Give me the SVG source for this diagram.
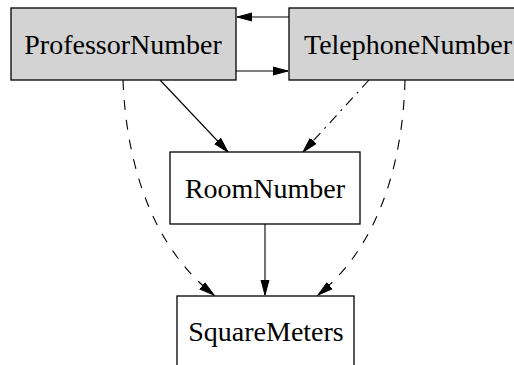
<svg xmlns="http://www.w3.org/2000/svg" width="514" height="365" viewBox="0 0 514 365">
<style>
.box{stroke:#000;stroke-width:1.3}
.grey{fill:#d3d3d3}
.white{fill:#fff}
text{font-family:"Liberation Serif","Times New Roman",serif;font-size:28px;fill:#000;text-anchor:middle}
.e{fill:none;stroke:#000;stroke-width:1.1}
.dash{stroke-dasharray:10,10}
.dashdot{stroke-dasharray:10,6,2,6}
</style>
<defs>
<marker id="ah" markerWidth="16" markerHeight="10" refX="15" refY="5" orient="auto" markerUnits="userSpaceOnUse">
<path d="M0,1 L15,5 L0,9 Z" fill="#000" stroke="#000" stroke-width="1"/>
</marker>
</defs>
<rect width="514" height="365" fill="#fff"/>
<g id="connectors">
<path class="e" d="M289,17 L237,17" marker-end="url(#ah)"/>
<path class="e" d="M236,71 L288,71" marker-end="url(#ah)"/>
<path class="e" d="M160,80 L228,152" marker-end="url(#ah)"/>
<path class="e dashdot" d="M369,80 L303,152" marker-end="url(#ah)"/>
<path class="e" d="M265,224 L265,295" marker-end="url(#ah)"/>
<path class="e dash" d="M123,80 C126,160 150,245 214,295" marker-end="url(#ah)"/>
<path class="e dash" d="M405,80 C403,160 380,245 318,295" marker-end="url(#ah)"/>
</g>
<g id="ProfessorNumber">
<rect class="box grey" x="11" y="8" width="225" height="72"/>
<text x="123" y="54">ProfessorNumber</text>
</g>
<g id="TelephoneNumber">
<rect class="box grey" x="289" y="8" width="238" height="72"/>
<text x="408" y="54">TelephoneNumber</text>
</g>
<g id="RoomNumber">
<rect class="box white" x="170" y="152" width="190" height="72"/>
<text x="265" y="198">RoomNumber</text>
</g>
<g id="SquareMeters">
<rect class="box white" x="177" y="296" width="177" height="72"/>
<text x="266" y="341">SquareMeters</text>
</g>
</svg>
